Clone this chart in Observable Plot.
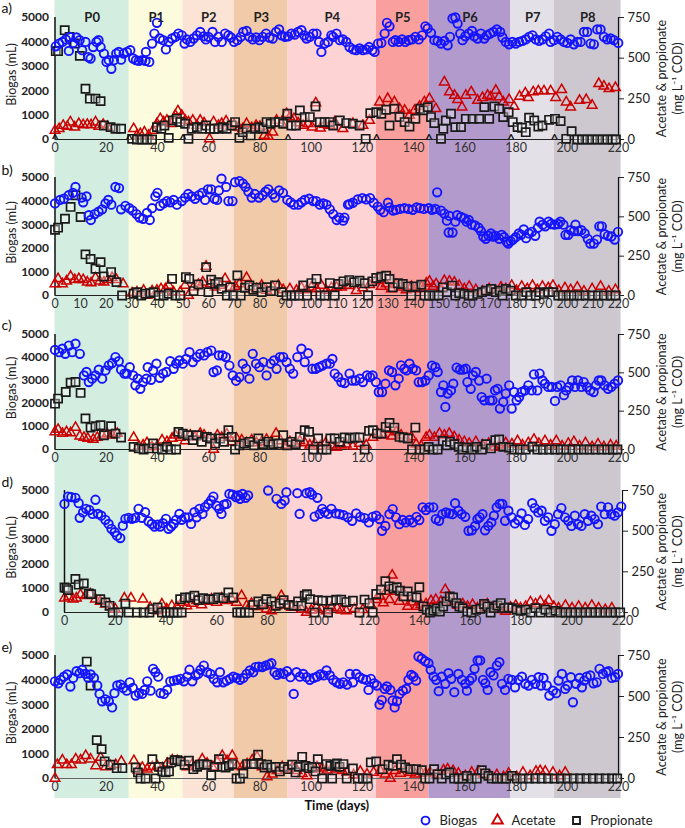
<!DOCTYPE html>
<html><head><meta charset="utf-8">
<script src="https://cdn.jsdelivr.net/npm/d3@7"></script>
<script src="https://cdn.jsdelivr.net/npm/@observablehq/plot@0.6"></script>
<style>
body{margin:0;background:#fff;font-family:Lato,"Open Sans",sans-serif;}
#chart{width:685px;}
#chart svg{display:block;}
#legend{padding-left:418px;height:16px;overflow:visible;}
#legend > *{min-height:0 !important;height:16px !important;margin:0 !important;line-height:16px;}
#legend, #legend *{font-family:Lato,"Open Sans",sans-serif !important;font-size:13px !important;color:#222;}
</style></head><body><div id="chart"></div><div id="legend"></div>
<script>
// ---------- categories / ticks ----------
const periods = ["P0","P1","P2","P3","P4","P5","P6","P7","P8"];
const periodStart = [0,29,50,70,91,125.5,146,178,195];
const periodEnd   = [29,50,70,91,125.5,146,178,195,221];
const periodColors = ["#d3eee1","#fdfbdd","#fbe4d6","#f1caa9","#fdd3d3","#f9a09e","#b39acd","#e4e0e7","#cdc8d0"];
const caretDays = [0,29,50,91,125.5,146,178,195];
const seriesNames = ["Biogas","Acetate","Propionate"];
const seriesColors = ["#1414ff","#cc0000","#1a1a1a"];
const seriesSymbols = ["circle","triangle","square"];
const xTicks20 = [0,20,40,60,80,100,120,140,160,180,200,220];
const xTicks10 = [0,10,20,30,40,50,60,70,80,90,100,110,120,130,140,150,160,170,180,190,200,210,220];
const biogasTicks = [0,1000,2000,3000,4000,5000];
const acidTicks = [0,250,500,750];

// ---------- panel a ----------
const bioA = [[0.3,3820],[1.6,3930],[2.9,4000],[4.2,4100],[5.4,3630],[5.8,4200],[7.1,3960],[8.4,4180],[9.6,4070],[10.6,3660],[11.9,4000],[13,3380],[13.9,3320],[14.9,3790],[16.2,4000],[17,4070],[17.8,3790],[19.1,3520],[20.1,3180],[21,3250],[22,2900],[23,3250],[23.9,3520],[24.9,3590],[25.8,3270],[26.8,3520],[28.1,3590],[29.4,3660],[30.5,3320],[31.6,3250],[32.7,3220],[34,3250],[35.3,3220],[35.5,3590],[36.8,3180],[37.9,3930],[38.8,4340],[39.8,4780],[40.9,4140],[42.2,4070],[43.3,3690],[44.4,4000],[45.7,4140],[47,4210],[48.2,4340],[49.5,4270],[50.6,3930],[51.5,4100],[52.8,4000],[54.1,4140],[55.4,4270],[56.7,4410],[58,4230],[58.9,4100],[59.9,4210],[61.5,4410],[62.5,4000],[63.8,4210],[65.1,4000],[66.4,4340],[67.7,4270],[68.7,4180],[69.9,4000],[71.2,4070],[72.5,4210],[73.5,4410],[74.8,4450],[75.9,4210],[77.2,4100],[78.5,4180],[79.8,4070],[81.1,4210],[82.4,4340],[83.7,4180],[85,4140],[86.3,4410],[87.5,4510],[88.5,4270],[89.8,4210],[91,4230],[92.3,4340],[93.6,4300],[94.9,4410],[96.2,4480],[97.3,4270],[98.2,4140],[99.5,4210],[100.8,4340],[102.1,4340],[103.1,4000],[104,3590],[105.3,3930],[106.6,4000],[107.9,4270],[108.6,4210],[109.9,4340],[111.2,4070],[112.4,4100],[113.7,4000],[115,3790],[116.4,3690],[117.6,3660],[118.9,3730],[120.2,3660],[121.5,3690],[122.6,3790],[123.9,3660],[124.8,3590],[126.1,3930],[127.4,3960],[128.7,4340],[129.6,4780],[130.6,4640],[131.9,4000],[132.9,4070],[134.2,4000],[135.5,4100],[136.8,4000],[138.1,4070],[139.4,4100],[140.7,4210],[142,4100],[143.3,4270],[144.6,4640],[145.5,4550],[146.8,4370],[148.1,4070],[149.4,4040],[150.7,3930],[152,4040],[153.3,3860],[154.2,4210],[155.2,4960],[156.3,5000],[157.2,4750],[158.2,4340],[159.1,4070],[160.2,4230],[161.5,4340],[162.8,4450],[163.7,4230],[165,4140],[166.3,4340],[167.6,4140],[168.6,4270],[169.9,4340],[171.2,4410],[172.5,4510],[173.8,4410],[174.7,4180],[176,4000],[177.3,3900],[178.6,4000],[179.9,3930],[181.2,4000],[182.5,4040],[183.8,4100],[185.1,4210],[186.4,4270],[187.7,4100],[189,4040],[190.3,4100],[191.6,4230],[192.9,4340],[193.5,4000],[194.8,4070],[196.1,4210],[197.4,4100],[198.7,4000],[200,3960],[201.3,4100],[202.6,3900],[203.9,4000],[205.2,4000],[206.5,4410],[207.8,4410],[209.1,3930],[210.4,3900],[211.7,4510],[213,4510],[214.3,4210],[215.6,4100],[216.9,4140],[218.2,4070],[219.9,3960]];
const aceA = [[0,55],[1.6,66],[3.2,86],[4.8,80],[6,107],[7.7,76],[9.3,97],[11,90],[12.6,92],[14.1,90],[15.8,107],[17.1,80],[18.8,92],[20.4,80],[30.7,66],[32,25],[33.3,35],[34.9,45],[36.6,25],[38.3,55],[39.8,97],[41.1,127],[42.4,107],[43.7,117],[45.3,97],[47,148],[48,175],[49.5,148],[50.8,117],[52.1,107],[53.8,117],[55.4,86],[56.7,117],[58.2,101],[60.3,4],[61.9,107],[63.8,86],[65.1,97],[66.8,113],[68.4,80],[69.9,92],[71.6,76],[73.3,66],[74.8,97],[76.8,72],[78.5,86],[80,80],[81.7,25],[83.3,18],[85,45],[86.5,117],[88.5,97],[90.4,158],[91.7,138],[93.3,127],[94.9,101],[96.9,86],[98.8,97],[100.4,76],[101.8,224],[103.6,70],[105.3,92],[107.3,86],[109.2,107],[112.4,66],[116.3,97],[120.2,86],[122.8,117],[126.7,230],[129.9,251],[132.5,230],[134.5,189],[136.5,179],[138.4,148],[140.4,179],[142.3,203],[144.2,230],[146.2,251],[148.7,189],[152,353],[154,292],[156,271],[157.2,245],[158.9,199],[160.4,271],[162.5,292],[165,240],[166.9,257],[168.9,271],[170.1,261],[172.1,302],[173.4,261],[175,230],[177.3,245],[179.2,203],[181.4,265],[183.6,286],[184.8,257],[186.7,292],[188.7,298],[190.9,298],[193.5,298],[195.5,257],[197.8,306],[199.6,230],[201.3,199],[204.8,240],[207.4,245],[209.7,210],[212.3,343],[214.3,327],[216.3,312],[218.8,319]];
const proA = [[0.3,543],[1.2,543],[3.8,672],[5.7,631],[7.7,590],[9.7,514],[11.9,312],[13.6,251],[15.8,251],[17.8,236],[19.1,86],[21.7,76],[23.6,66],[25.8,66],[30.1,4],[32,0],[34,0],[35.9,0],[37.9,0],[39.8,76],[41.5,66],[42.7,86],[44.4,10],[46,117],[47.6,127],[48.9,107],[50.8,97],[52.1,4],[53.4,66],[55.4,76],[57.3,66],[59,86],[60.6,66],[62.1,66],[63.8,66],[65.5,76],[67,66],[69,86],[70.3,107],[72,10],[73.3,45],[74.8,66],[76.4,25],[78.1,66],[79.8,76],[81.3,66],[82.6,107],[84.2,97],[85.9,107],[87.5,107],[89.1,97],[90.7,158],[92.3,86],[94.1,86],[95.6,179],[97.5,138],[99.5,138],[101.7,203],[103.4,107],[105.3,107],[107.3,107],[108.6,86],[111.2,117],[113.7,101],[116.3,97],[118.9,86],[121.3,4],[123.1,162],[125.4,168],[127.4,158],[129.3,183],[130.6,86],[132.5,189],[134.5,138],[136.5,107],[138.4,80],[140.7,127],[142.6,189],[143.9,179],[145.5,199],[146.8,138],[148.1,101],[150.7,4],[151.6,66],[152.6,117],[154.6,158],[156.3,76],[158.5,76],[160.4,127],[163,127],[165.6,127],[167.6,199],[169.5,127],[171.5,203],[173.4,189],[175,138],[177.1,168],[178.7,107],[180.6,76],[182.3,72],[183.8,45],[185.1,134],[187.1,117],[188.7,80],[190.3,86],[192.9,121],[195.2,127],[197.4,113],[199.6,4],[201.7,51],[203.9,0],[205.8,0],[207.8,0],[209.7,0],[211.7,0],[213.7,0],[215.6,0],[217.6,0],[219,0]];

// ---------- panel b ----------
const bioB = [[0,3900],[2,4050],[3.5,4100],[5.4,4250],[7,4350],[8,4600],[10.4,4150],[11,3950],[12.3,4200],[13.2,3400],[14,3200],[15.5,3450],[17,3550],[18.4,3650],[19.7,3900],[20.8,4050],[22,3850],[23.6,4600],[25,4550],[25.8,3650],[27.5,3800],[29,3700],[30.3,3600],[31.8,3450],[33,3300],[34.4,3250],[35.9,3500],[37,3200],[37.9,3700],[39.2,4200],[40,4350],[41,3800],[42.4,3900],[43.7,4000],[45,3950],[46.3,4050],[47.6,3850],[49.5,4000],[50.8,4150],[52,4300],[53.4,4200],[54.7,4100],[56.2,4250],[57.5,4350],[58.6,4050],[59.7,4500],[61,4500],[62.3,4100],[63.3,4050],[64,4450],[65,4950],[66.8,4600],[67.7,4000],[69.3,4000],[70.3,4800],[72,4850],[73.3,4750],[74.4,4600],[75.5,4400],[76.8,4150],[78,4300],[79.6,4150],[81,4250],[82.2,4400],[83.3,4500],[85,4300],[85.9,4150],[87.5,4450],[89,4350],[90.7,4050],[92,3950],[93.3,3850],[95,3850],[96.2,3950],[97.5,4050],[99.2,4100],[100.8,4000],[102,4000],[103.4,3850],[104.7,3900],[106,3850],[107.3,3650],[108.6,3450],[110,3200],[111,3300],[112.5,3170],[113,3300],[114.4,3850],[115,3870],[116.3,3930],[118.2,4070],[120,4130],[121.5,4070],[123,4130],[124.4,3930],[126,3770],[127,3630],[128.3,3530],[130,3930],[130.6,3730],[132,3600],[133.1,3630],[134.7,3670],[136.4,3700],[138,3670],[139.7,3630],[141.2,3730],[142.5,3700],[144,3670],[145.9,3700],[147.2,3630],[148.5,3670],[149.2,4370],[150.7,3600],[152,3470],[153,3170],[153.7,2670],[154,3370],[155.2,2670],[156.3,3130],[157,3400],[158.5,3330],[159.8,3270],[160.7,3130],[161.5,3200],[162.7,3000],[164,2970],[165.4,2870],[166.3,2730],[167.2,2500],[168.2,2400],[169.3,2530],[170.2,2630],[171,2500],[172,2530],[173.4,2400],[174.4,2570],[175.3,2470],[176.4,2270],[177,2200],[177.9,2300],[178.8,2370],[179.9,2470],[181.1,2630],[182,2570],[183,2800],[183.9,2430],[185,2630],[186.2,2700],[187.5,2530],[188.5,2870],[189.2,3130],[190.4,3000],[191.4,2930],[192.7,3130],[193.7,3030],[195,3000],[196.4,3030],[197.3,3130],[198.5,3000],[199.3,2570],[200.4,2570],[201.3,2770],[202.6,2730],[203.2,3000],[204.3,2730],[205.5,2770],[206.8,2630],[208,2400],[209,2200],[210.4,2200],[211.6,2370],[212.5,2930],[213.5,2930],[214.6,2600],[215.9,2530],[217.2,2500],[218.5,2370],[219.8,2700]];
const aceB = [[0,74],[1.2,106],[2.9,74],[4.5,91],[6.1,121],[7.7,100],[9.3,106],[11,100],[12.6,85],[14.1,79],[15.8,113],[17.5,91],[19.1,85],[20.6,100],[22.3,113],[24,100],[26.6,74],[30.1,15],[32,21],[34.6,32],[35.9,0],[37.9,28],[39.8,32],[41.4,42],[43.1,42],[44.4,64],[46.3,21],[48.9,21],[50.8,64],[52.1,0],[54.1,53],[56,70],[57.7,85],[59,185],[60.6,74],[62.5,53],[64.5,64],[66.4,106],[68.4,53],[70.3,57],[72,74],[74.8,113],[76.4,53],[78.7,42],[80.7,64],[82.6,32],[85,53],[87.2,64],[89.1,36],[91.7,42],[94.3,32],[96.2,49],[98.2,36],[100.1,53],[102.1,42],[104,64],[106,32],[107.9,49],[109.9,52],[111.8,53],[113.7,64],[115,63],[117.6,31],[120.2,48],[122.8,69],[125.4,94],[127.4,57],[129.3,73],[131.3,42],[133.2,69],[135.2,52],[137.1,36],[139.1,57],[141,42],[143,52],[145,78],[146.2,90],[147.6,57],[148.8,73],[150.7,42],[152,94],[154,90],[155.9,84],[157.8,63],[159.8,42],[161.7,57],[164.3,36],[166.9,27],[169.5,42],[172.1,31],[174.1,52],[176,42],[178.3,63],[180.2,31],[182.2,57],[184.4,42],[186.4,63],[188.3,36],[190.3,57],[192.6,48],[194.4,63],[196.7,31],[199.1,48],[201.3,36],[203.9,52],[206.5,27],[209.7,42],[213,57],[216.2,27],[218.8,36]];
const proB = [[0,418],[1.2,431],[3.9,488],[6.1,563],[8,637],[10,499],[11.9,261],[13.9,232],[15.8,170],[17.8,212],[19.1,121],[21.9,149],[24,85],[26.2,0],[30.7,11],[32,21],[33.7,0],[35.3,11],[37.2,15],[38.5,21],[40.5,0],[42.4,0],[44.4,11],[45.7,106],[47,0],[48.9,0],[51.1,117],[52.4,106],[54.1,28],[56,70],[59,180],[59.9,21],[61,100],[62.5,74],[63.8,85],[65.1,42],[67.1,0],[68.4,53],[69.6,0],[71.2,127],[72.5,0],[74.2,49],[75.9,64],[77.4,36],[78.7,49],[80.7,21],[82.6,53],[84.3,28],[85.9,64],[88.5,21],[90.4,0],[92.3,0],[93.6,0],[95.3,0],[96.9,64],[98.4,0],[100.1,79],[102.1,106],[103.6,0],[105.3,0],[107.3,79],[109.2,0],[110.7,73],[112.6,90],[114.9,98],[116.8,84],[118.9,94],[120.9,78],[122.2,0],[123.9,90],[125.4,111],[127.4,119],[129.3,126],[130.6,105],[131.9,52],[133.9,78],[135.8,73],[137.8,57],[139.1,0],[140.7,57],[143,69],[144.2,0],[146,0],[148.1,0],[149.8,0],[151.4,52],[153,21],[155,63],[156.3,0],[157.8,15],[159.8,10],[161.5,0],[163,0],[165,10],[166.7,21],[168.2,31],[170.2,42],[172.1,21],[173.7,31],[174.7,0],[176,42],[177.9,31],[179.9,0],[182.2,0],[184,21],[185.7,0],[187.7,0],[189.2,21],[190.9,10],[192.6,21],[194.4,21],[196.5,0],[198.3,0],[200.6,0],[202.6,0],[204.8,0],[207.1,0],[209.7,0],[212,0],[214.3,0],[216.9,0],[218.8,0]];

// ---------- panel c ----------
const bioC = [[0,4330],[1.6,4230],[2.9,4380],[4,4160],[5.4,4520],[6.7,4230],[8,4600],[9.7,4160],[11.3,3220],[12.3,3370],[13.2,2930],[14.5,3080],[15.8,3220],[17.1,3470],[18.4,3080],[19.7,3440],[21,3660],[22.3,3760],[23.6,4020],[24.9,3840],[25.8,3470],[27.1,3300],[28,3300],[29.2,3580],[30.5,3220],[31.4,2790],[32.3,3080],[33.3,2640],[34.4,2930],[35.7,3080],[36.2,3580],[37.5,3030],[38.3,3440],[39.6,3730],[40.9,3120],[42.2,3300],[43.5,3370],[45,3840],[46.3,3510],[47.3,3730],[48.6,3870],[49.9,3730],[51.2,3940],[52.5,4230],[53.8,3800],[55.4,4020],[56.7,4160],[58.2,4090],[59.5,4230],[61,4300],[61.9,3370],[63.2,3440],[64,4090],[65.4,4090],[66.7,4020],[68.1,3650],[69.4,3220],[70.7,2990],[72,3150],[73.3,3730],[74.6,3510],[75.9,3080],[77.2,4160],[78.5,3730],[79.8,3580],[81.3,3800],[82.6,3220],[84.2,3730],[85.5,3870],[86.5,3510],[87.8,4020],[89.1,4020],[90.4,3800],[91.7,3510],[93,3300],[94.6,4020],[96.2,4380],[97.5,3800],[98.8,4190],[100.5,3510],[101.8,3510],[103.1,3580],[104.4,3650],[106,3730],[107.3,3730],[108.3,3940],[109.2,3300],[110.5,3150],[111.8,2930],[113.1,2890],[115,3300],[116,3000],[117.4,3000],[119,3080],[120.2,2930],[121.8,3220],[123,3150],[124,3220],[125.3,2930],[126.4,2500],[127.7,2500],[129,2860],[130.4,3440],[131.6,3370],[132.9,2790],[134.2,3080],[135.1,3660],[136.4,3510],[137.3,3440],[138.4,3730],[139.7,3510],[141,3440],[142,2930],[143.3,2930],[144.6,3000],[145.9,3220],[147.2,3650],[148.5,3580],[149.4,3370],[150.7,2500],[151.6,2790],[152.4,1850],[153.3,2430],[154.6,2570],[155.5,2860],[156.8,3560],[158.1,3470],[159.4,3470],[160.4,3510],[161,2930],[162.3,2640],[163.2,3220],[164.3,3370],[165.6,3000],[166.6,2280],[167.6,2140],[168.5,3080],[169.8,2140],[170.8,2140],[171.8,2570],[172.8,2640],[173.7,1780],[175,2070],[176,2430],[177.3,2790],[178.3,1780],[179.2,2500],[180.2,2140],[181.2,2280],[182.2,2500],[183.5,2570],[184.8,2790],[186.1,2570],[187,3270],[188.3,2570],[189.2,3300],[190.3,3000],[191.3,2860],[192.6,2720],[193.9,2720],[195.2,2110],[196.1,2720],[197.4,2790],[198.7,2360],[199.6,2570],[200.6,2720],[201.9,3000],[203,2720],[204.2,3000],[205.5,2720],[206.4,2930],[207.7,2720],[209,2570],[210.3,2500],[211.2,2790],[212.3,3000],[213.3,3000],[214.6,2790],[215.9,2640],[217.2,2720],[218.5,2860],[219.8,3000]];
const aceC = [[0,115],[1.2,130],[2.9,104],[4.5,115],[6.1,108],[8,143],[9.7,87],[11.3,78],[12.8,72],[14.9,65],[16.5,78],[18.4,93],[20.4,104],[22.3,93],[24.3,104],[30.7,78],[32.7,22],[34.4,28],[35.9,43],[37.9,17],[39.8,22],[41.8,61],[43.7,50],[45.7,72],[47,93],[48.9,78],[50.8,56],[52.8,93],[54.7,82],[56.7,104],[58.2,93],[59.9,72],[61.9,0],[63.4,93],[65.1,78],[67.1,100],[69,50],[70.9,72],[72.9,61],[74.8,43],[76.8,61],[78.7,43],[80.7,50],[82.6,65],[84.2,43],[86.3,104],[88.1,56],[90.1,28],[91.7,50],[93.6,39],[95.6,56],[97.5,43],[99.5,28],[101.4,39],[103.6,22],[105.7,43],[107.9,28],[109.9,13],[111.8,28],[113.7,35],[116.3,22],[118.9,39],[121.5,28],[124.1,78],[126,104],[128,93],[129.9,130],[131.6,87],[133.2,115],[135.1,93],[137.1,72],[139.1,82],[141,35],[143,22],[144.9,78],[146.2,93],[148.1,78],[150.1,104],[152,93],[153.9,104],[155.9,82],[157.8,61],[159.8,50],[161.7,39],[164.3,50],[166.9,28],[169.3,39],[171.5,13],[173.4,28],[176,43],[178.4,35],[180.6,56],[182.5,28],[184.8,43],[187,65],[188.9,39],[191.3,56],[193.5,28],[195.7,56],[198,22],[200.4,39],[202.6,50],[204.8,22],[207.1,43],[209.7,17],[212,35],[214.3,17],[216.9,28],[219.1,22]];
const proC = [[0,299],[1.2,332],[4.2,375],[6.1,436],[8,440],[10,369],[11.9,202],[13.9,143],[15.8,152],[17.8,158],[19.1,93],[21.9,152],[23.6,104],[25.8,78],[30.7,17],[32.7,7],[34.6,0],[36.6,7],[38.3,39],[39.8,7],[41.8,0],[43.7,17],[45.3,0],[47.3,0],[48.2,115],[49.9,104],[51.8,93],[53.8,61],[55.4,93],[57.3,50],[59.3,82],[60.8,72],[62.5,39],[64.5,72],[66,50],[67.7,126],[69,82],[70.3,0],[72,28],[73.8,39],[75.9,50],[77.7,28],[79.4,72],[81.3,35],[83.3,50],[85.2,35],[87.2,39],[89.1,93],[90.7,28],[92.3,50],[94,35],[95.6,82],[97.5,126],[99.2,115],[100.8,0],[102.7,72],[104.4,0],[106,0],[107.5,72],[109.2,72],[111.2,50],[113.1,78],[115,72],[117,78],[118.9,78],[120.9,0],[122.6,121],[124.1,126],[125.7,104],[127.4,104],[129.1,147],[130.6,173],[132.5,143],[134.5,82],[136.1,78],[137.8,72],[139.4,0],[140.7,143],[142.3,0],[144.2,0],[145.9,17],[147.7,0],[149.4,0],[151.4,56],[153,28],[154.2,50],[155.9,35],[157.6,17],[159.1,0],[160.7,13],[162.8,0],[164.6,17],[166.7,0],[168.2,35],[170.2,7],[171.9,61],[173.4,65],[175,17],[177.3,13],[179.3,0],[181.5,0],[183.8,0],[186.4,17],[188.3,0],[190.5,0],[192.9,0],[195.2,0],[197.4,0],[199.6,0],[202,0],[204.3,0],[206.5,0],[208.7,0],[211,0],[213.4,0],[215.6,0],[217.8,0],[219.6,0]];

// ---------- panel d ----------
const bioD = [[0,4450],[1.4,4750],[2.7,4730],[4.3,4700],[5.6,4480],[6,3880],[7.3,4100],[8.5,4250],[9.8,4200],[11.1,4040],[12.2,4620],[13.2,4040],[14.5,3970],[16.1,3800],[17.4,3630],[18.5,3430],[19.8,3290],[20.7,3150],[22,3050],[23,3560],[24,3840],[25.3,3880],[26.6,3840],[27.9,3880],[29.2,4250],[30.5,3880],[31.8,4110],[33.1,3740],[34.4,3630],[35.5,3520],[36.7,3600],[37.7,3520],[38.8,3660],[40,3840],[41,3430],[42,3520],[43,3630],[44,3800],[45.3,4040],[46.2,3800],[47.5,3900],[48.9,3900],[49.9,3630],[51.2,4110],[52.1,3900],[53.2,4250],[54.4,4040],[55.4,4320],[56.7,4450],[57.8,4590],[58.7,4750],[60,4380],[61,4250],[61.9,4040],[62.9,4420],[63.9,4450],[65,4860],[66.3,4830],[67.6,4730],[68.5,4800],[69.2,4660],[70.2,4860],[71.4,4700],[72.4,4800],[80.3,5000],[83.6,4660],[85.5,4450],[86.8,4590],[87.5,4930],[91.8,4890],[92.7,4040],[95.4,4890],[96.7,4930],[97.6,4830],[98.6,3930],[99.7,4700],[100.6,4040],[101.6,4250],[102.6,4110],[103.9,4040],[105.2,4250],[106.9,4060],[108.4,4030],[110,3990],[111.7,3900],[113.4,3760],[115,4060],[116.6,3920],[118.3,3870],[120,3690],[121.5,3920],[122.9,3970],[124.2,3830],[125.2,3350],[126.5,3550],[128.1,4030],[129.4,4240],[130.7,3900],[132,3620],[133.3,3790],[134.6,3690],[136,3790],[137.3,3690],[138.8,3920],[139.9,3790],[141.2,4310],[142.5,4200],[143.8,4310],[145.4,4310],[146.4,3830],[147.7,3760],[149,4030],[150.4,4100],[151.7,4060],[153,4030],[154,4480],[155.3,4170],[156.6,4030],[158,3920],[159.3,3350],[160.6,3370],[161.9,3550],[162.8,3830],[163.7,3900],[164.8,4030],[165.8,3370],[167.1,3550],[168.3,3690],[169.3,3970],[170.4,4310],[171.6,4450],[172.6,4450],[173.7,3760],[175,4170],[176.3,3900],[177.6,3650],[178.9,3790],[180.2,4060],[181.5,3590],[182.8,3830],[184.4,4480],[185.4,4280],[186.8,4100],[188.1,4170],[189.4,3760],[190.7,3900],[192,3350],[193.3,3620],[194.6,4030],[195.9,4280],[197.3,3900],[198.6,3760],[199.9,3550],[201.2,3970],[202.5,3620],[203.8,3550],[205.1,4030],[206.4,3760],[207.7,3970],[209,3830],[210.3,3620],[211.6,4340],[213,4030],[214.3,4310],[215.6,4030],[216.9,3970],[218.2,4100],[219.5,4340]];
const aceD = [[0,88],[1.7,97],[3.4,82],[4.7,88],[6.3,109],[8.3,103],[10.2,113],[12.2,82],[14.1,68],[16.1,51],[18.1,35],[20,21],[23.6,88],[26.2,88],[30.9,82],[33.8,31],[36.4,10],[38.4,51],[40.3,21],[42.3,41],[44.3,35],[46.2,62],[48.2,41],[50.2,55],[52.1,72],[54.1,47],[56.1,68],[58,82],[60,62],[62,88],[63.9,72],[65.9,82],[67.8,62],[69.8,103],[71.8,41],[73.7,55],[75.7,35],[77.7,51],[79.6,21],[81.6,10],[83.6,41],[85.5,103],[87.5,47],[89.5,31],[91.4,35],[93.4,21],[95.4,0],[97.3,14],[99.3,31],[101.2,21],[103.2,10],[105.2,31],[107.5,27],[109.1,14],[111.1,10],[114.3,23],[117.6,17],[120.9,43],[122.9,79],[124.4,99],[125.7,58],[126.8,130],[128.1,79],[129.2,229],[130.4,130],[132,68],[133.6,120],[135.3,37],[137,64],[138.8,37],[140.5,48],[142.5,52],[144.5,72],[146.4,79],[148.4,68],[150.1,140],[151.7,99],[153.3,68],[155,43],[157,52],[158.9,37],[160.9,48],[162.8,27],[164.8,43],[166.7,52],[168.7,27],[170.7,37],[172.6,17],[173.9,6],[175.9,31],[177.9,43],[179.8,27],[181.8,37],[183.7,64],[185.7,52],[187.6,68],[189.6,43],[190.9,72],[192.9,37],[194.8,27],[197.5,43],[200.1,27],[202.7,37],[205.3,27],[207.9,43],[210.6,27],[213.2,17],[215.8,27]];
const proD = [[0,154],[0.8,150],[1.4,138],[4.3,206],[5.6,171],[7.6,179],[9.6,117],[10.5,113],[14.1,82],[16.1,62],[17.8,41],[19,0],[21.3,0],[24,55],[25.3,0],[28.6,0],[31.2,0],[33.5,0],[34.8,21],[36.7,31],[38.4,0],[40.3,0],[41.7,0],[43,0],[44.5,0],[46.2,0],[45.6,82],[47.5,92],[49.5,92],[51.2,103],[52.8,76],[54.7,88],[56.7,82],[58.7,82],[60.6,92],[62.6,88],[64.6,123],[66.5,92],[68.1,0],[69.4,0],[71.1,0],[72.8,0],[74.4,47],[76.4,68],[78.3,51],[79.6,82],[81.6,68],[83.3,41],[84.9,55],[86.4,76],[88.5,47],[90.4,41],[92.1,68],[93.4,41],[94.7,103],[95.6,113],[96.9,82],[98.6,0],[99.9,76],[101.6,72],[103.9,0],[105.2,72],[107.1,79],[109.1,79],[111.1,64],[113.7,72],[116.3,0],[118.3,79],[120.2,58],[121.5,0],[122.9,114],[124.8,140],[126.5,192],[128.1,161],[129.7,147],[131,155],[132.3,134],[133.6,99],[135.3,130],[137,99],[138.8,93],[139.9,155],[141.5,37],[142.8,17],[144.1,0],[145.4,10],[146.7,23],[148,6],[149.3,37],[150.6,68],[151.9,99],[153.2,93],[154.5,58],[155.7,37],[157,27],[158.8,6],[160.4,0],[162.3,17],[164,23],[165.4,52],[166.7,37],[168,0],[169.3,27],[170.7,43],[172,58],[173.3,27],[175,31],[176.6,27],[178.2,17],[179.8,10],[181.8,17],[183.8,0],[185.7,27],[187.7,0],[189.6,17],[191.6,0],[193.6,10],[195.5,0],[197.5,0],[199.5,0],[201.4,0],[203.4,0],[205.4,0],[207.3,0],[209.3,0],[211.2,0],[213.2,0],[215.2,0],[217.2,0],[219.1,0]];

// ---------- panel e ----------
const bioE = [[0,3950],[1.3,3870],[2.2,4010],[3.5,4140],[4.8,4230],[6,3740],[7.1,4090],[8.4,4360],[9.6,4280],[10.6,4420],[11.9,4250],[13,4090],[13.9,4230],[15.2,4090],[16.5,3780],[17.4,3440],[18.4,3140],[19.7,3220],[21,3140],[22.3,2890],[23.2,3470],[24.3,3780],[25.6,3820],[26.6,3680],[28,3570],[29.2,3910],[30.4,3680],[31.5,3370],[32.8,3470],[34,3440],[35,3600],[36,3950],[37.3,3570],[38.3,4460],[39.2,4320],[40.3,4140],[41.2,3470],[42.5,3440],[43.8,3600],[45,3950],[46.4,3980],[47.7,4010],[49,4050],[50.3,3950],[51.6,4140],[52.5,4420],[53.6,3950],[54.9,4190],[55.9,4250],[56.8,4420],[58.1,4590],[59.4,4320],[60.7,4250],[62,4050],[63.3,3910],[64.4,4320],[65.7,3910],[67,3980],[68.3,4050],[69.6,4140],[70.9,4090],[72.2,4010],[73.5,4090],[74.8,4250],[76.1,4390],[77.4,4320],[78.3,4530],[79.6,4550],[80.9,4530],[82.2,4590],[83.5,4630],[84.5,4690],[85.7,4320],[86.7,4210],[88,4280],[89.3,4250],[90.6,4360],[91.9,4120],[93.2,3440],[94.3,4320],[95.6,4140],[96.9,4250],[98.2,4120],[99.5,4010],[101,4090],[102.3,4140],[103.6,4230],[104.9,4190],[106,4390],[107.3,4190],[108.6,4010],[109.9,3910],[111.2,3850],[112.5,3910],[114,3820],[115.1,4250],[116.3,3910],[117.6,4250],[118.9,4120],[120.2,4050],[121.5,4010],[122.4,3600],[123.3,4050],[124.6,3870],[125.7,3780],[126.7,3000],[127.6,3190],[128.7,3640],[129.6,3740],[130.9,3600],[131.8,3170],[132.6,2890],[133.5,3140],[134.5,3440],[135.8,3570],[137.1,3640],[138,4010],[139.1,4210],[140,4140],[141,3980],[141.9,4960],[143.2,4870],[144.5,4770],[145.8,4690],[146.7,4420],[147.8,4140],[148.8,4010],[149.8,3550],[151,4140],[152.4,3850],[153.6,4280],[154.7,4050],[155.9,3510],[157.5,4250],[158.9,4010],[160.2,3850],[160.8,3570],[161.8,3980],[162.8,4090],[163.8,4460],[165,4800],[166,4800],[167.1,4010],[168,3870],[168.9,3600],[170,4320],[171.2,4190],[172.5,4590],[173.5,4730],[174.5,3850],[175.7,3600],[177,4050],[178.4,4010],[179.6,3710],[180.9,4010],[182.3,4140],[183.6,3850],[184.9,3780],[186.2,4010],[187.5,3850],[188.8,4120],[189.7,3780],[190.7,4090],[192,3780],[193,3370],[194.4,3570],[195.7,3470],[196.6,3980],[197.9,4250],[199.2,3640],[200.1,3780],[201.4,4120],[202.2,3100],[203.4,3850],[204.8,4090],[205.7,3710],[206.6,3980],[207.6,4140],[209,4190],[210.2,3870],[211.5,3910],[212.6,4460],[213.9,4250],[215.2,4320],[216.1,4360],[217.4,4090],[218.7,4120],[219.8,4250]];
const aceE = [[0,0],[0.9,84],[2.9,112],[4.6,84],[6.4,84],[8.1,118],[10,112],[12,139],[13.9,118],[15.9,77],[17.8,128],[19.8,71],[21.7,77],[23.7,84],[25.9,104],[30.8,108],[32.4,51],[34.1,67],[36,57],[38,71],[39.9,77],[41.9,63],[43.8,92],[45.8,112],[47.7,108],[49.7,98],[51.6,71],[53.6,88],[55.5,77],[57.5,118],[59.4,92],[61.4,71],[63.3,104],[65.3,139],[67.2,108],[69.2,139],[71.1,77],[73.1,71],[75,88],[77,112],[78.9,132],[80.9,71],[82.8,10],[84.8,26],[86.7,47],[88.7,71],[90.6,57],[92.6,67],[94.5,47],[96.5,30],[98.4,16],[100.4,57],[102.3,71],[104.3,63],[106.2,51],[108.2,67],[110.1,57],[112.1,47],[114,37],[116.6,22],[119.2,43],[121.8,26],[124.4,37],[127,47],[128.9,26],[130.9,0],[132.8,47],[134.8,31],[136.7,57],[138.7,37],[140.6,26],[142.6,43],[144.6,31],[146.5,37],[149.1,26],[151.7,51],[153.3,57],[155.4,47],[157.5,31],[160.2,16],[162.7,37],[165.3,43],[167.3,26],[169.9,16],[172.5,22],[175.1,10],[177.1,31],[180.3,10],[182.7,37],[185.5,16],[187.8,43],[189.4,47],[191.4,43],[194.4,37],[197,16],[199.2,37]];
const proE = [[12.4,713],[13.9,567],[16.3,234],[18.2,179],[19.4,104],[21.7,84],[24.1,63],[26.3,63],[31.5,67],[32.4,37],[33.4,0],[35.4,0],[38,118],[39.3,0],[40.6,71],[41.9,43],[43.2,37],[44.5,43],[45.4,98],[46.7,112],[47.7,112],[49,104],[50.6,84],[52.3,108],[54,57],[55.5,71],[56.6,84],[57.9,88],[59.4,84],[61,20],[62.3,71],[64,118],[65.3,71],[66.6,67],[67.9,77],[69.2,88],[70.9,0],[72.2,0],[73.5,31],[75,88],[76.6,88],[77.6,88],[79.3,145],[80.5,88],[81.8,67],[82.8,84],[84.4,67],[86.1,71],[87.8,43],[89.3,71],[90.9,57],[92.6,84],[93.9,37],[95.2,71],[96.5,132],[97.8,77],[99.1,63],[100.4,71],[101.7,43],[102.6,118],[104.3,0],[106,88],[107.5,77],[108.2,0],[109.4,84],[110.1,92],[111.1,71],[112.6,88],[113.9,0],[116.3,61],[118.2,0],[120.2,0],[122,0],[123.3,98],[125.4,104],[127.9,57],[130.2,84],[131.9,77],[133.5,118],[135.1,84],[136.7,67],[138.7,57],[141,57],[143.2,51],[144.5,0],[146.2,0],[148,57],[149.4,26],[151,0],[152.7,26],[154,37],[155.8,0],[157.5,0],[159.2,0],[160.8,16],[162.7,0],[164.7,0],[166.6,51],[167.9,31],[169.2,16],[170.5,0],[172.5,0],[174.5,0],[176.2,0],[178.4,16],[180.3,0],[182.6,0],[185,0],[187.5,0],[190,0],[192.5,0],[195,0],[197.5,0],[200,0],[202.5,0],[205,0],[207.5,0],[210,0],[212.5,0],[215,0],[217.5,0],[219.5,0]];

// ---------- layout ----------
const W = 685;
const K = 5000 / 750;              // right-axis (mg/L COD) -> left-axis units
const STD_ML = 54.5, STD_MR = 67;  // standard panel x frame
const STD_SLOPE = (W - STD_ML - STD_MR) / 220;
const FONT = "Lato, 'Open Sans', sans-serif";

const panels = [
  {letter:"a", bio:bioA, ace:aceA, pro:proA, height:160, mt:17, mb:21, ml:STD_ML, mr:STD_MR, xticks:xTicks20, letterY:8,  periodsShown:true, carets:true},
  {letter:"b", bio:bioB, ace:aceB, pro:proB, height:158, mt:17, mb:23, ml:STD_ML, mr:STD_MR, xticks:xTicks10, letterY:10},
  {letter:"c", bio:bioC, ace:aceC, pro:proC, height:160, mt:16, mb:29, ml:STD_ML, mr:STD_MR, xticks:xTicks20, letterY:7},
  {letter:"d", bio:bioD, ace:aceD, pro:proD, height:158, mt:12, mb:24, ml:64,     mr:63,     xticks:xTicks20, letterY:4},
  {letter:"e", bio:bioE, ace:aceE, pro:proE, height:176, mt:19, mb:34, ml:STD_ML, mr:STD_MR, xticks:xTicks20, letterY:11, bandBottom:162, xTitle:"Time (days)", baseColor:"#666"}
];

function buildPanel(cfg) {
  const {letter, bio, ace, pro, height, mt, mb, ml, mr, xticks, letterY} = cfg;
  const bandBottom = cfg.bandBottom ?? height;
  const yb = height - mb, span = yb - mt;
  const valAt = px => 5000 * (yb - px) / span;
  const slope = (W - ml - mr) / 220;
  const toDay = d => (STD_ML + d * STD_SLOPE - ml) / slope;   // keep bands aligned across panels
  const bands = periods.map((p, i) => ({p, x1: toDay(periodStart[i]), x2: toDay(periodEnd[i]), color: periodColors[i]}));
  const top = valAt(0), bot = valAt(bandBottom);
  const biogasRows = bio.map(([d, v]) => ({day: d, y: v, s: "Biogas"}));
  const aceRows = ace.map(([d, v]) => ({day: d, y: v * K, s: "Acetate"}));
  const proRows = pro.map(([d, v]) => ({day: d, y: v * K, s: "Propionate"}));
  const rightEdge = W - mr;

  const marks = [
    ...bands.map(b => Plot.rect([b], {x1: "x1", x2: "x2", y1: () => top, y2: () => bot, fill: b.color})),
    Plot.ruleY([0], {stroke: cfg.baseColor || "#222", strokeWidth: 1.2}),
    Plot.ruleX([0], {stroke: "#111", strokeWidth: 1.5}),
    Plot.ruleX([220], {stroke: "#111", strokeWidth: 1.2}),
    Plot.axisX({ticks: xticks, tickSize: 0, tickPadding: 4, fontSize: 12.5, label: null, fill: "#333", tickFormat: d => String(d)}),
    Plot.axisY({ticks: biogasTicks, tickSize: 0, tickPadding: ml - 48.5, fontSize: 12, fontWeight: "bold", label: null, fill: "#222", tickFormat: d => String(d)}),
    Plot.axisY({anchor: "right", ticks: acidTicks.map(v => v * K), tickFormat: v => String(Math.round(v / K)), tickSize: 5, tickPadding: 4, fontSize: 13, label: null, fill: "#222", stroke: "#222"}),
    Plot.dot(aceRows, {x: "day", y: "y", symbol: "s", stroke: "s", r: 3.6, strokeWidth: 1.5, fill: "none"}),
    Plot.dot(proRows, {x: "day", y: "y", symbol: "s", stroke: "s", r: 4.6, strokeWidth: 1.7, fill: "white", fillOpacity: 0.35}),
    Plot.dot(biogasRows, {x: "day", y: "y", symbol: "s", stroke: "s", r: 4.2, strokeWidth: 1.9, fill: "none"}),
    Plot.text([letter + ")"], {text: d => d, frameAnchor: "top-left", lineAnchor: "middle", dx: 1 - ml, dy: letterY - mt, textAnchor: "start", fontSize: 14, fill: "#111"}),
    Plot.text(["Biogas (mL)"], {text: d => d, frameAnchor: "left", lineAnchor: "middle", textAnchor: "middle", dx: 11 - ml, dy: -4, rotate: -90, fontSize: 12.5, fill: "#222"}),
    Plot.text(["Acetate & propionate\n(mg L\u207B\u00B9 COD)"], {text: d => d, frameAnchor: "right", lineAnchor: "middle", textAnchor: "middle", dx: 668 - rightEdge, rotate: -90, fontSize: 12.5, lineHeight: 1.3, fill: "#222"})
  ];
  if (cfg.periodsShown) {
    marks.push(Plot.text(bands, {x: d => (d.x1 + d.x2) / 2, frameAnchor: "top", lineAnchor: "middle", text: "p", fontWeight: "bold", fontSize: 13, fill: "#222"}));
  }
  if (cfg.carets) {
    marks.push(Plot.text(caretDays, {x: d => toDay(d), y: () => 0, text: () => "^", fontSize: 13, fontWeight: "bold", dy: 0, fill: "#111"}));
  }
  if (cfg.xTitle) {
    marks.push(Plot.text([cfg.xTitle], {text: d => d, frameAnchor: "bottom", lineAnchor: "middle", dy: 27, fontWeight: "bold", fontSize: 13, fill: "#111"}));
  }

  return Plot.plot({
    width: W, height,
    marginTop: mt, marginBottom: mb, marginLeft: ml, marginRight: mr,
    style: {fontFamily: FONT, color: "#222", background: "transparent", overflow: "visible"},
    x: {domain: [0, 220]},
    y: {domain: [0, 5000]},
    color: {domain: seriesNames, range: seriesColors},
    symbol: {domain: seriesNames, range: seriesSymbols},
    marks
  });
}

const chart = document.getElementById("chart");
let last;
for (const cfg of panels) {
  last = buildPanel(cfg);
  chart.appendChild(last);
}
const leg = last.legend("symbol", {strokeWidth: 2, r: 4.2});
if (leg) document.getElementById("legend").appendChild(leg);
</script>
</body></html>
